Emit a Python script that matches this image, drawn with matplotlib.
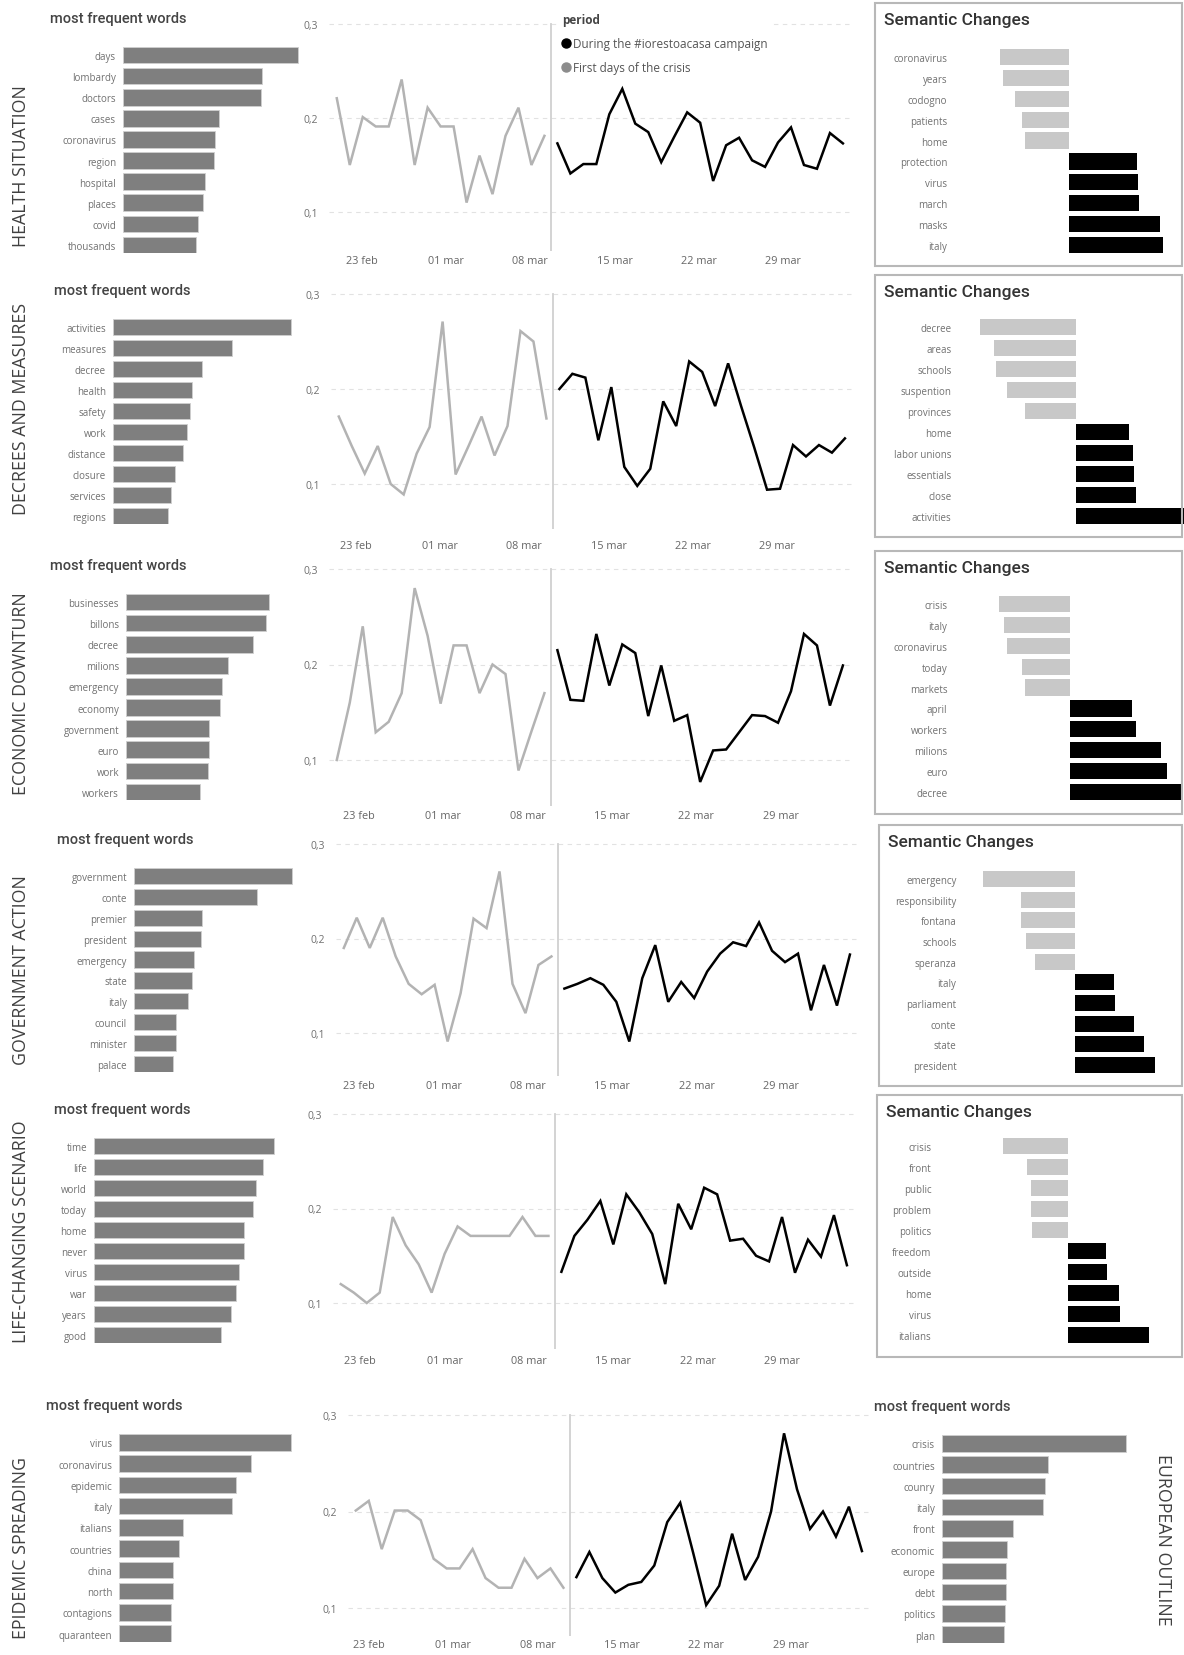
import matplotlib.pyplot as plt
import numpy as np
from matplotlib.lines import Line2D
from matplotlib.patches import Rectangle

plt.rcParams['font.family'] = ['Open Sans', 'DejaVu Sans']

W, H = 1184, 1656

# ---------------- data ----------------
topics = ['HEALTH SITUATION', 'DECREES AND MEASURES', 'ECONOMIC DOWNTURN',
          'GOVERNMENT ACTION', 'LIFE-CHANGING SCENARIO', 'EPIDEMIC SPREADING']
date_labels = ['23 feb', '01 mar', '08 mar', '15 mar', '22 mar', '29 mar']
period_labels = ['During the #iorestoacasa campaign', 'First days of the crisis']

# most frequent words (relative bar lengths)
health_words = ['days', 'lombardy', 'doctors', 'cases', 'coronavirus', 'region', 'hospital', 'places', 'covid', 'thousands']
health_freq = [175, 139, 138, 96, 92, 91, 82, 80, 75, 73]
decrees_words = ['activities', 'measures', 'decree', 'health', 'safety', 'work', 'distance', 'closure', 'services', 'regions']
decrees_freq = [178, 119, 89, 79, 77, 74, 70, 62, 58, 55]
economy_words = ['businesses', 'billons', 'decree', 'milions', 'emergency', 'economy', 'government', 'euro', 'work', 'workers']
economy_freq = [143, 140, 127, 102, 96, 94, 83, 83, 82, 74]
gov_words = ['government', 'conte', 'premier', 'president', 'emergency', 'state', 'italy', 'council', 'minister', 'palace']
gov_freq = [158, 123, 68, 67, 60, 58, 54, 42, 42, 39]
life_words = ['time', 'life', 'world', 'today', 'home', 'never', 'virus', 'war', 'years', 'good']
life_freq = [180, 169, 162, 159, 150, 150, 145, 142, 137, 127]
epidemic_words = ['virus', 'coronavirus', 'epidemic', 'italy', 'italians', 'countries', 'china', 'north', 'contagions', 'quaranteen']
epidemic_freq = [172, 132, 117, 113, 64, 60, 54, 54, 52, 52]
europe_words = ['crisis', 'countries', 'counry', 'italy', 'front', 'economic', 'europe', 'debt', 'politics', 'plan']
europe_freq = [184, 106, 103, 101, 71, 65, 64, 64, 63, 62]

# semantic changes (negative = first days, positive = during the campaign)
health_sem_words = ['coronavirus', 'years', 'codogno', 'patients', 'home', 'protection', 'virus', 'march', 'masks', 'italy']
health_sem = [-69, -66, -54, -47, -44, 68, 69, 70, 91, 94]
decrees_sem_words = ['decree', 'areas', 'schools', 'suspention', 'provinces', 'home', 'labor unions', 'essentials', 'close', 'activities']
decrees_sem = [-96, -82, -80, -69, -51, 53, 57, 58, 60, 125]
economy_sem_words = ['crisis', 'italy', 'coronavirus', 'today', 'markets', 'april', 'workers', 'milions', 'euro', 'decree']
economy_sem = [-71, -66, -63, -48, -45, 62, 66, 91, 97, 111]
gov_sem_words = ['emergency', 'responsibility', 'fontana', 'schools', 'speranza', 'italy', 'parliament', 'conte', 'state', 'president']
gov_sem = [-92, -54, -54, -49, -40, 39, 40, 59, 69, 80]
life_sem_words = ['crisis', 'front', 'public', 'problem', 'politics', 'freedom', 'outside', 'home', 'virus', 'italians']
life_sem = [-65, -41, -37, -37, -36, 38, 39, 51, 52, 81]

# daily share per topic: first days of the crisis / during #iorestoacasa
health_first = [0.221, 0.150, 0.201, 0.191, 0.191, 0.241, 0.150, 0.211, 0.191, 0.191, 0.110, 0.160, 0.119, 0.181, 0.211, 0.150, 0.181]
health_during = [0.173, 0.141, 0.151, 0.151, 0.204, 0.231, 0.194, 0.185, 0.153, 0.180, 0.206, 0.195, 0.133, 0.171, 0.179, 0.155, 0.148, 0.174, 0.190, 0.150, 0.146, 0.184, 0.173]
decrees_first = [0.171, 0.140, 0.111, 0.140, 0.100, 0.089, 0.132, 0.160, 0.271, 0.110, 0.140, 0.171, 0.130, 0.161, 0.261, 0.250, 0.169]
decrees_during = [0.200, 0.216, 0.212, 0.146, 0.202, 0.118, 0.098, 0.116, 0.187, 0.161, 0.229, 0.218, 0.182, 0.227, 0.182, 0.139, 0.094, 0.095, 0.141, 0.129, 0.141, 0.133, 0.148]
economy_first = [0.100, 0.160, 0.240, 0.129, 0.140, 0.170, 0.280, 0.230, 0.159, 0.220, 0.220, 0.170, 0.200, 0.190, 0.089, 0.130, 0.170]
economy_during = [0.215, 0.163, 0.162, 0.232, 0.178, 0.221, 0.212, 0.146, 0.199, 0.141, 0.147, 0.077, 0.110, 0.111, 0.129, 0.147, 0.146, 0.139, 0.172, 0.232, 0.220, 0.157, 0.199]
gov_first = [0.190, 0.222, 0.190, 0.222, 0.181, 0.152, 0.141, 0.151, 0.091, 0.142, 0.221, 0.211, 0.271, 0.152, 0.121, 0.172, 0.181]
gov_during = [0.147, 0.152, 0.158, 0.151, 0.133, 0.091, 0.158, 0.193, 0.133, 0.154, 0.137, 0.165, 0.184, 0.196, 0.192, 0.217, 0.187, 0.175, 0.184, 0.124, 0.172, 0.129, 0.183]
life_first = [0.120, 0.111, 0.100, 0.111, 0.191, 0.161, 0.141, 0.111, 0.152, 0.181, 0.171, 0.171, 0.171, 0.171, 0.191, 0.171, 0.171]
life_during = [0.133, 0.171, 0.188, 0.208, 0.162, 0.215, 0.196, 0.173, 0.120, 0.205, 0.178, 0.222, 0.215, 0.166, 0.168, 0.150, 0.144, 0.191, 0.132, 0.167, 0.149, 0.193, 0.140]
epidemic_first = [0.201, 0.211, 0.161, 0.201, 0.201, 0.191, 0.151, 0.141, 0.141, 0.161, 0.131, 0.121, 0.121, 0.151, 0.131, 0.141, 0.121]
epidemic_during = [0.132, 0.158, 0.131, 0.116, 0.124, 0.127, 0.144, 0.189, 0.209, 0.157, 0.103, 0.123, 0.177, 0.129, 0.153, 0.200, 0.281, 0.223, 0.182, 0.200, 0.174, 0.205, 0.159]

fig = plt.figure(figsize=(W / 100, H / 100), dpi=100)


def px_axes(x0, y0, x1, y1):
    return fig.add_axes([x0 / W, 1 - y1 / H, (x1 - x0) / W, (y1 - y0) / H])


def clean(ax):
    for s in ax.spines.values():
        s.set_visible(False)


def bar_panel(x0, top, bot, words, freq, title_x):
    ax = px_axes(x0, top, x0 + 200, bot)
    ax.barh(np.arange(len(words)), freq, height=0.78, color='#7f7f7f',
            edgecolor='#cfcfcf', linewidth=0.6)
    ax.set_ylim(len(words) - 1 + 0.39, -0.39)
    ax.set_xlim(0, 200)
    ax.set_xticks([])
    ax.set_yticks(np.arange(len(words)), words, fontsize=7, color='#707070')
    ax.tick_params(length=0, pad=5)
    clean(ax)
    fig.text(title_x / W, 1 - (top - 29) / H, 'most frequent words', family=['Roboto', 'DejaVu Sans'],
             fontsize=10.5, fontweight='medium', color='#444444', va='center')
    return ax


def line_panel(x0, y03, y01, ybot, first, during, tick_off, label_y):
    ppu = (y01 - y03) / 0.2
    ax = px_axes(x0, y03 - 3, x0 + 523, ybot)
    ax.set_ylim(0.3 - (ybot - y03) / ppu, 0.3 + 3 / ppu)
    ax.set_xlim(-0.6, 39.7)
    x_first = np.arange(len(first))
    x_during = np.arange(len(first), len(first) + len(during))
    ax.plot(x_first, first, color='#b3b3b3', lw=1.8, solid_joinstyle='miter')
    ax.plot(x_during, during, color='black', lw=1.8, solid_joinstyle='miter')
    ax.axvline(len(first) - 0.5, ymax=(0.3 - ax.get_ylim()[0]) / (ax.get_ylim()[1] - ax.get_ylim()[0]),
               color='#d0d0d0', lw=1.3)
    ax.set_yticks([0.1, 0.2, 0.3], ['0,1', '0,2', '0,3'])
    ax.grid(axis='y', linestyle=(0, (4, 4)), color='#e2e2e2', lw=0.8)
    ax.set_xticks(tick_off + 6.5 * np.arange(len(date_labels)), date_labels)
    ax.tick_params(axis='y', length=0, pad=8, labelsize=7.5, labelcolor='#707070')
    ax.tick_params(axis='x', length=0, pad=(label_y - 6 - ybot) * 0.72, labelsize=7.8, labelcolor='#666666')
    clean(ax)
    return ax


def sem_panel(box_l, box_t, box_b, top, bot, zero_x, label_r, words, values):
    fig.add_artist(Rectangle((box_l / W, 1 - box_b / H), (1182 - box_l) / W, (box_b - box_t) / H,
                             transform=fig.transFigure, fill=False, edgecolor='#b8b8b8', lw=1.5))
    fig.text((box_l + 9) / W, 1 - (box_t + 17) / H, 'Semantic Changes', family=['Roboto', 'DejaVu Sans'],
             fontsize=12.5, fontweight='medium', color='#333333', va='center')
    ax = px_axes(label_r + 4, top, W, bot)
    ax.set_xlim(-(zero_x - label_r - 4), W - zero_x)
    colors = ['#c8c8c8' if v < 0 else 'black' for v in values]
    ax.barh(np.arange(len(words)), values, height=0.78, color=colors)
    ax.set_ylim(len(words) - 1 + 0.39, -0.39)
    ax.set_xticks([])
    ax.set_yticks(np.arange(len(words)), words, fontsize=7, color='#707070')
    ax.tick_params(length=0, pad=4)
    clean(ax)


# ---------------- layout (pixel positions) ----------------
bar_data = [(health_words, health_freq), (decrees_words, decrees_freq), (economy_words, economy_freq),
            (gov_words, gov_freq), (life_words, life_freq), (epidemic_words, epidemic_freq)]
line_data = [(health_first, health_during), (decrees_first, decrees_during), (economy_first, economy_during),
             (gov_first, gov_during), (life_first, life_during), (epidemic_first, epidemic_during)]
sem_data = [(health_sem_words, health_sem), (decrees_sem_words, decrees_sem), (economy_sem_words, economy_sem),
            (gov_sem_words, gov_sem), (life_sem_words, life_sem)]

bar_pos = [(123, 48, 254, 50), (113, 320, 525, 54), (126, 595, 801, 50),
           (134, 869, 1073, 57), (94, 1139, 1344, 54), (119, 1435, 1643, 46)]
line_pos = [(329, 25, 213, 252, 1.9, 262), (331, 295, 485, 530, 1.3, 547), (329, 570, 761, 807, 1.7, 817),
            (336, 845, 1034, 1077, 1.2, 1087), (333, 1115, 1304, 1350, 1.5, 1362), (348, 1416, 1609, 1637, 1.0, 1646)]
sem_pos = [(875, 4, 267, 50, 254, 1069, 949), (875, 276, 538, 320, 525, 1076, 953),
           (875, 552, 815, 597, 801, 1070, 949), (879, 826, 1087, 872, 1074, 1075, 958),
           (877, 1096, 1358, 1139, 1344, 1068, 933)]
topic_y = [166, 409, 694, 970, 1232, 1548]

for i in range(6):
    words, freq = bar_data[i]
    x0, top, bot, tx = bar_pos[i]
    bar_panel(x0, top, bot, words, freq, tx)
    first, during = line_data[i]
    ax = line_panel(*line_pos[i][:4], first, during, line_pos[i][4], line_pos[i][5])
    if i == 0:
        handles = [Line2D([], [], ls='none', marker='o', ms=6.5, color='black'),
                   Line2D([], [], ls='none', marker='o', ms=6.5, color='#8c8c8c')]
        leg = ax.legend(handles, period_labels, title='period', loc='upper left',
                        bbox_to_anchor=(559 / W, 1 - 10 / H), bbox_transform=fig.transFigure,
                        frameon=True, facecolor='white', edgecolor='none', framealpha=1,
                        fontsize=8.5, title_fontsize=8.5, alignment='left', handlelength=0.6,
                        handletextpad=0.3, labelspacing=0.95, borderpad=0.3, borderaxespad=0)
        leg.get_title().set_fontweight('bold')
        leg.get_title().set_color('#444444')
        for t in leg.get_texts():
            t.set_color('#555555')
    if i < 5:
        words, vals = sem_data[i]
        sem_panel(*sem_pos[i], words, vals)
    fig.text(21 / W, 1 - topic_y[i] / H, topics[i], rotation=90, ha='center', va='center',
             fontsize=12.8, color='#404040')

# bottom right: european outline
bar_panel(942, 1436, 1644, europe_words, europe_freq, 874)
fig.text(1163 / W, 1 - 1540 / H, 'EUROPEAN OUTLINE', rotation=270, ha='center', va='center',
         fontsize=12.8, color='#404040')

fig.savefig('out.png', dpi=100)
